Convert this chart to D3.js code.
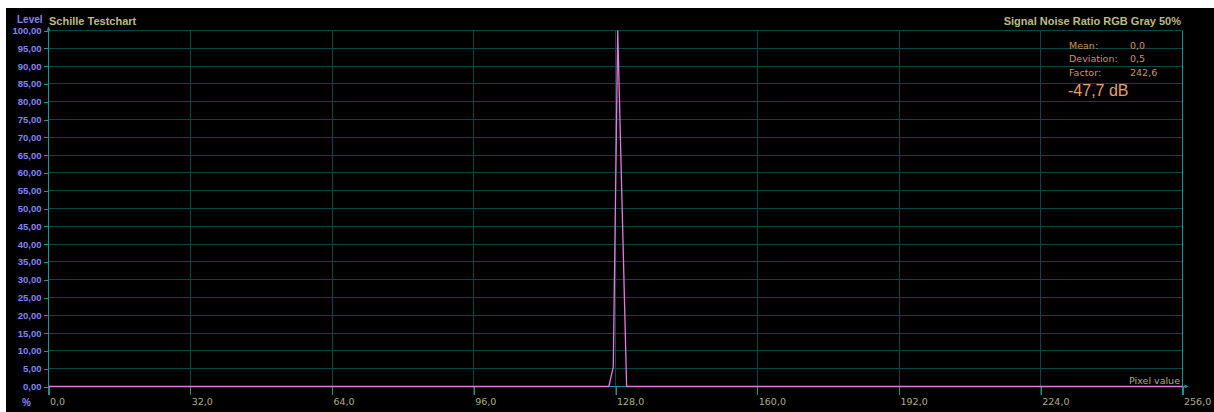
<!DOCTYPE html>
<html>
<head>
<meta charset="utf-8">
<script src="https://cdn.jsdelivr.net/npm/d3@7"></script>
<style>
  body { margin: 0; background: #fff; }
  svg { display: block; }
  .grid line { stroke: #0c4646; shape-rendering: crispEdges; }
  .axis .domain, .axis line { stroke: #1a9494; shape-rendering: crispEdges; }
  .ylab text { font: bold 9.5px "Liberation Sans", sans-serif; fill: #8484f6; }
  .xlab text { font: 9.5px "DejaVu Sans", sans-serif; fill: #aeae84; }
</style>
</head>
<body>
<svg width="1214" height="412"></svg>
<script>
// histogram (bin index -> level in %)
const pixelBins = [0, 126, 127, 128, 129, 130, 255];
const levels    = [0, 0, 5.5, 100, 50, 0, 0];

const xTicks = [0, 32, 64, 96, 128, 160, 192, 224, 256];
const yTicks = [0, 5, 10, 15, 20, 25, 30, 35, 40, 45, 50, 55, 60, 65, 70, 75, 80, 85, 90, 95, 100];

const statNames  = ['Mean:', 'Deviation:', 'Factor:'];
const statValues = ['0,0', '0,5', '242,6'];
const snrText = '-47,7 dB';

const title = 'Schille Testchart';
const subTitle = 'Signal Noise Ratio RGB Gray 50%';

const svg = d3.select('svg');
const width = +svg.attr('width');
const height = +svg.attr('height');

// black panel
svg.append('rect')
  .attr('x', 6).attr('y', 8)
  .attr('width', width - 6).attr('height', height - 8)
  .attr('fill', '#000');

const plotL = 48.5, plotR = 1182.5, plotT = 30.5, plotB = 386.5;

const comma = d3.formatLocale({decimal: ',', thousands: '.', grouping: [3], currency: ['', '']});

const xScale = d3.scaleLinear().domain([0, 256]).range([plotL, plotR]);
const xBin = d3.scaleLinear().domain([0, 255]).range([plotL, plotR]);
const yScale = d3.scaleLinear().domain([0, 100]).range([plotB, plotT]);

// grid
const grid = svg.append('g').attr('class', 'grid');
grid.selectAll('.h')
  .data(yTicks.slice(1))
  .join('line')
  .attr('class', 'h')
  .attr('x1', plotL).attr('x2', plotR)
  .attr('y1', d => yScale(d)).attr('y2', d => yScale(d));
grid.selectAll('.v')
  .data(xTicks.slice(1, -1))
  .join('line')
  .attr('class', 'v')
  .attr('x1', d => xScale(d)).attr('x2', d => xScale(d))
  .attr('y1', plotT).attr('y2', plotB + 8);

// y axis
const yAxisG = svg.append('g')
  .attr('class', 'axis ylab')
  .attr('transform', `translate(${plotL},0)`)
  .call(d3.axisLeft(yScale).tickValues(yTicks).tickFormat(comma.format('.2f')).tickSize(5).tickPadding(2).tickSizeOuter(0));
yAxisG.select('.domain').remove();
yAxisG.append('line')
  .attr('x1', 0).attr('x2', 0)
  .attr('y1', plotB + 8).attr('y2', plotT - 3);
yAxisG.append('path')
  .attr('d', `M-2,${plotT} L0,${plotT - 4} L2,${plotT} Z`)
  .attr('fill', '#1a9494');

// x axis
const xAxisG = svg.append('g')
  .attr('class', 'axis xlab')
  .attr('transform', `translate(0,${plotB})`)
  .call(d3.axisBottom(xScale).tickValues(xTicks).tickFormat(comma.format('.1f')).tickSize(8).tickSizeOuter(0));
xAxisG.select('.domain').remove();
xAxisG.selectAll('.tick text')
  .attr('text-anchor', 'start')
  .attr('x', 1)
  .attr('y', 12);
xAxisG.append('line')
  .attr('x1', plotL).attr('x2', plotR + 4)
  .attr('y1', 0).attr('y2', 0);
xAxisG.append('path')
  .attr('d', `M${plotR + 2},-2 L${plotR + 6},0 L${plotR + 2},2 Z`)
  .attr('fill', '#1a9494');
// right border at 256
xAxisG.append('line')
  .attr('x1', plotR).attr('x2', plotR)
  .attr('y1', plotT - plotB).attr('y2', 8);

// histogram line
const pts = pixelBins.map((b, i) => [xBin(b), yScale(levels[i])]);
svg.append('path')
  .attr('d', d3.line()(pts))
  .attr('fill', 'none')
  .attr('stroke', '#e27ae2')
  .attr('stroke-width', 1.3);

// labels
svg.append('text')
  .attr('x', 17).attr('y', 23)
  .attr('font-family', 'Liberation Sans, sans-serif')
  .attr('font-weight', 'bold').attr('font-size', 10)
  .attr('fill', '#8484f6')
  .text('Level');
svg.append('text')
  .attr('x', 31).attr('y', 406)
  .attr('text-anchor', 'end')
  .attr('font-family', 'Liberation Sans, sans-serif')
  .attr('font-weight', 'bold').attr('font-size', 10)
  .attr('fill', '#8484f6')
  .text('%');
svg.append('text')
  .attr('x', 49).attr('y', 25)
  .attr('font-family', 'Liberation Sans, sans-serif')
  .attr('font-weight', 'bold').attr('font-size', 11)
  .attr('fill', '#bcbc86')
  .text(title);
svg.append('text')
  .attr('x', 1181).attr('y', 25)
  .attr('text-anchor', 'end')
  .attr('font-family', 'Liberation Sans, sans-serif')
  .attr('font-weight', 'bold').attr('font-size', 11)
  .attr('fill', '#bcbc86')
  .text(subTitle);
svg.append('text')
  .attr('x', 1180).attr('y', 384)
  .attr('text-anchor', 'end')
  .attr('font-family', 'DejaVu Sans, sans-serif')
  .attr('font-size', 9.5)
  .attr('fill', '#aeae84')
  .text('Pixel value');

// stats box
const stats = svg.append('g')
  .attr('font-family', 'DejaVu Sans, sans-serif')
  .attr('font-size', 9.5)
  .attr('fill', '#c8946a');
stats.selectAll('.n')
  .data(statNames)
  .join('text')
  .attr('class', 'n')
  .attr('x', 1069)
  .attr('y', (d, i) => 48.5 + i * 13.5)
  .text(d => d);
stats.selectAll('.v')
  .data(statValues)
  .join('text')
  .attr('class', 'v')
  .attr('x', 1130)
  .attr('y', (d, i) => 48.5 + i * 13.5)
  .text(d => d);
svg.append('text')
  .attr('x', 1068).attr('y', 96)
  .attr('font-family', 'Liberation Sans, sans-serif')
  .attr('font-size', 16)
  .attr('fill', '#e8a070')
  .text(snrText);
</script>
</body>
</html>
